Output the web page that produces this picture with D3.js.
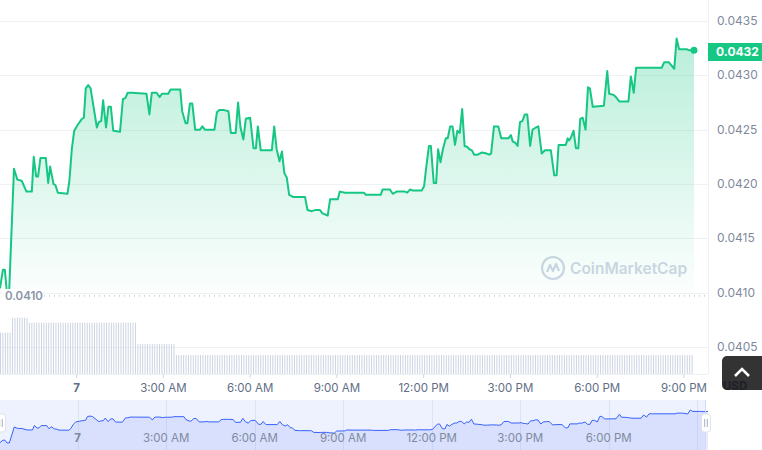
<!DOCTYPE html>
<html>
<head>
<meta charset="utf-8">
<script src="https://cdn.jsdelivr.net/npm/d3@7"></script>
<style>
    body { margin: 0; background: #fff; overflow: hidden; }
    svg { display: block; font-family: Inter, "Noto Sans", sans-serif; }
</style>
</head>
<body>
<svg id="chart" width="762" height="450"></svg>
<script>
// minutes after the first sample (21:22 on the 6th) and the price at that moment
var priceMinutes = [0, 6, 10, 14, 19, 29, 36, 45, 55, 66, 70, 75, 79, 84, 95, 100, 104, 111, 115, 120,
    140, 144, 149, 154, 162, 170, 174, 178, 183, 188, 201, 205, 210, 214, 220, 225, 230, 235, 249, 255,
    260, 265, 273, 304, 310, 315, 325, 331, 336, 349, 354, 374, 378, 385, 389, 394, 399, 405, 415, 420,
    425, 445, 450, 455, 465, 474, 479, 489, 494, 499, 505, 510, 519, 526, 531, 535, 541, 564, 569, 574,
    580, 585, 590, 595, 600, 609, 633, 638, 647, 654, 664, 669, 680, 685, 701, 705, 716, 737, 755, 759,
    790, 794, 809, 815, 823, 840, 845, 851, 856, 875, 880, 884, 890, 894, 900, 905, 909, 914, 919, 925,
    929, 934, 939, 944, 949, 954, 959, 964, 970, 974, 979, 984, 991, 1000, 1010, 1015, 1019, 1025, 1034, 1040,
    1055, 1060, 1064, 1069, 1074, 1079, 1084, 1089, 1094, 1100, 1105, 1112, 1117, 1124, 1131, 1143, 1150, 1155, 1159, 1174,
    1178, 1181, 1185, 1190, 1195, 1200, 1204, 1209, 1215, 1220, 1224, 1230, 1253, 1260, 1264, 1273, 1278, 1285, 1304, 1309,
    1315, 1320, 1327, 1373, 1378, 1388, 1399, 1404, 1409, 1425, 1430, 1440];

var prices = [0.04104, 0.04121, 0.04121, 0.04102, 0.04101, 0.04214, 0.04204, 0.04203, 0.04193, 0.04193,
    0.04225, 0.04207, 0.04207, 0.04224, 0.04224, 0.04201, 0.04216, 0.04200, 0.04199, 0.04192,
    0.04191, 0.04203, 0.04232, 0.04249, 0.04255, 0.04260, 0.04261, 0.04288, 0.04291, 0.04288,
    0.04252, 0.04257, 0.04258, 0.04277, 0.04252, 0.04271, 0.04271, 0.04249, 0.04248, 0.04278,
    0.04279, 0.04284, 0.04284, 0.04283, 0.04264, 0.04284, 0.04284, 0.04280, 0.04283, 0.04283,
    0.04287, 0.04287, 0.04267, 0.04256, 0.04256, 0.04274, 0.04274, 0.04250, 0.04250, 0.04253,
    0.04250, 0.04250, 0.04266, 0.04268, 0.04268, 0.04267, 0.04247, 0.04247, 0.04275, 0.04252,
    0.04241, 0.04260, 0.04261, 0.04233, 0.04233, 0.04253, 0.04231, 0.04231, 0.04253, 0.04232,
    0.04221, 0.04230, 0.04210, 0.04206, 0.04190, 0.04188, 0.04188, 0.04176, 0.04175, 0.04176,
    0.04176, 0.04173, 0.04171, 0.04186, 0.04186, 0.04193, 0.04192, 0.04192, 0.04192, 0.04190,
    0.04190, 0.04195, 0.04195, 0.04191, 0.04193, 0.04193, 0.04192, 0.04195, 0.04194, 0.04194,
    0.04198, 0.04214, 0.04235, 0.04235, 0.04201, 0.04201, 0.04232, 0.04220, 0.04232, 0.04242,
    0.04242, 0.04253, 0.04253, 0.04236, 0.04249, 0.04247, 0.04269, 0.04235, 0.04234, 0.04232,
    0.04231, 0.04227, 0.04227, 0.04229, 0.04228, 0.04227, 0.04228, 0.04253, 0.04253, 0.04242,
    0.04242, 0.04245, 0.04239, 0.04238, 0.04235, 0.04257, 0.04258, 0.04264, 0.04264, 0.04235,
    0.04250, 0.04252, 0.04253, 0.04228, 0.04231, 0.04231, 0.04208, 0.04208, 0.04236, 0.04236,
    0.04242, 0.04240, 0.04243, 0.04249, 0.04233, 0.04233, 0.04260, 0.04261, 0.04250, 0.04289,
    0.04288, 0.04271, 0.04272, 0.04304, 0.04283, 0.04282, 0.04280, 0.04276, 0.04276, 0.04299,
    0.04284, 0.04307, 0.04307, 0.04307, 0.04312, 0.04312, 0.04306, 0.04334, 0.04324, 0.04324,
    0.04323, 0.04323];

// volume runs: minute where the level starts, level (millions)
var volumeRunStart = [0, 25, 58, 284, 361];
var volumeRunValue = [2.9, 3.95, 3.6, 2.1, 1.33];
var volumeStepMinutes = 5;

var priceTicks = [0.0405, 0.0410, 0.0415, 0.0420, 0.0425, 0.0430, 0.0435];
var openPrice = 0.04097;
var currentLabel = '0.0432';

var startTime = new Date(2024, 0, 6, 21, 22);
var endTime = new Date(startTime.getTime() + 1440 * 60000);

function timeAt(m) {
    return new Date(startTime.getTime() + m * 60000);
}

var points = priceMinutes.map(function(m, i) {
    return {t: timeAt(m), p: prices[i]};
});

var volumeBars = [];
for (var m = 0; m < 1440; m += volumeStepMinutes) {
    var level = 0;
    volumeRunStart.forEach(function(s, i) {
        if (m >= s) level = volumeRunValue[i];
    });
    volumeBars.push({t: timeAt(m), v: level});
}

var svg = d3.select('#chart');

var x = d3.scaleTime().domain([startTime, endTime]).range([0, 694]);
var y = d3.scaleLinear().domain([0.0405, 0.0435]).range([347, 21]);
var yVol = d3.scaleLinear().domain([0, 4]).range([374, 317]);

var fmtTime = d3.timeFormat('%-I:%M %p');
function tickLabel(d) {
    return d.getHours() === 0 ? d3.timeFormat('%-d')(d) : fmtTime(d);
}

// gradient under the price line
var defs = svg.append('defs');
var grad = defs.append('linearGradient')
    .attr('id', 'areaFill')
    .attr('gradientUnits', 'userSpaceOnUse')
    .attr('x1', 0).attr('x2', 0)
    .attr('y1', 40).attr('y2', 296);
grad.append('stop').attr('offset', 0).attr('stop-color', '#16c784').attr('stop-opacity', 0.3);
grad.append('stop').attr('offset', 1).attr('stop-color', '#16c784').attr('stop-opacity', 0.01);

// grid
svg.append('g').selectAll('line')
    .data(priceTicks)
    .enter().append('line')
    .attr('x1', 0)
    .attr('x2', 708)
    .attr('y1', function(d) { return Math.round(y(d)) + 0.5; })
    .attr('y2', function(d) { return Math.round(y(d)) + 0.5; })
    .style('stroke', '#eff2f5')
    .style('stroke-width', 1);

svg.append('line')
    .attr('x1', 708.5).attr('x2', 708.5)
    .attr('y1', 0).attr('y2', 374)
    .style('stroke', '#eff2f5');

svg.append('line')
    .attr('x1', 0).attr('x2', 708)
    .attr('y1', 374.5).attr('y2', 374.5)
    .style('stroke', '#eff2f5');

// volume bars
svg.append('g').selectAll('rect')
    .data(volumeBars)
    .enter().append('rect')
    .attr('x', function(d) { return x(d.t); })
    .attr('y', function(d) { return yVol(d.v); })
    .attr('width', 1)
    .attr('height', function(d) { return yVol(0) - yVol(d.v); })
    .style('fill', '#cdd4e2');

// watermark
var wm = svg.append('g').attr('transform', 'translate(553,268)');
wm.append('circle')
    .attr('r', 11)
    .style('fill', 'none')
    .style('stroke', '#cfd6e4')
    .style('stroke-width', 2.2);
wm.append('path')
    .attr('d', 'M-6,4 L-3,-3 L0,3 L3,-4 L6,3')
    .style('fill', 'none')
    .style('stroke', '#cfd6e4')
    .style('stroke-width', 2.2)
    .style('stroke-linejoin', 'round');
svg.append('text')
    .attr('x', 570)
    .attr('y', 274)
    .text('CoinMarketCap')
    .style('font-size', '15.5px')
    .style('font-weight', 600)
    .style('fill', '#cfd6e4');

// price area and line
var area = d3.area()
    .x(function(d) { return x(d.t); })
    .y0(y(0.0410))
    .y1(function(d) { return y(d.p); });
var line = d3.line()
    .x(function(d) { return x(d.t); })
    .y(function(d) { return y(d.p); });

svg.append('path')
    .datum(points)
    .attr('d', area)
    .style('fill', 'url(#areaFill)');

// open price reference
svg.append('line')
    .attr('x1', 44).attr('x2', 708)
    .attr('y1', y(openPrice)).attr('y2', y(openPrice))
    .style('stroke', '#a6b0c3')
    .style('stroke-width', 1)
    .style('stroke-dasharray', '1,4');

svg.append('path')
    .datum(points)
    .attr('d', line)
    .style('fill', 'none')
    .style('stroke', '#16c784')
    .style('stroke-width', 2)
    .style('stroke-linejoin', 'round');

var last = points[points.length - 1];
svg.append('circle')
    .attr('cx', x(last.t))
    .attr('cy', y(last.p))
    .attr('r', 3.5)
    .style('fill', '#16c784');

svg.append('rect')
    .attr('x', 2).attr('y', y(openPrice) - 7)
    .attr('width', 41).attr('height', 13)
    .style('fill', '#fff');
svg.append('text')
    .attr('x', 5)
    .attr('y', y(openPrice) + 4)
    .text(d3.format('.4f')(openPrice))
    .style('font-size', '11.5px')
    .style('font-weight', 600)
    .style('fill', '#8a93a6');

// right axis
svg.append('g').selectAll('text')
    .data(priceTicks)
    .enter().append('text')
    .attr('x', 717)
    .attr('y', function(d) { return y(d) + 4; })
    .text(d3.format('.4f'))
    .style('font-size', '12px')
    .style('fill', '#808a9d');

svg.append('rect')
    .attr('x', 708).attr('y', 43)
    .attr('width', 54).attr('height', 18)
    .style('fill', '#16c784');
svg.append('text')
    .attr('x', 716)
    .attr('y', 56)
    .text(currentLabel)
    .style('font-size', '12px')
    .style('font-weight', 700)
    .style('fill', '#fff');

// bottom axis
var xAxis = d3.axisBottom(x)
    .ticks(d3.timeHour.every(3))
    .tickSize(4)
    .tickFormat(tickLabel);
var gx = svg.append('g')
    .attr('transform', 'translate(0,374)')
    .call(xAxis);
gx.select('.domain').remove();
gx.selectAll('line').style('stroke', '#cfd6e4');
gx.selectAll('text')
    .attr('y', 10)
    .style('font-family', 'Inter, sans-serif')
    .style('font-size', '11.5px')
    .style('fill', '#616e85')
    .style('font-weight', function(d) { return d.getHours() === 0 ? 700 : 400; });

// navigator
var xn = d3.scaleTime().domain([startTime, endTime]).range([0, 708]);
var yn = d3.scaleLinear().domain(d3.extent(prices)).range([443, 410]);
var navTicks = xn.ticks(d3.timeHour.every(3));

svg.append('rect')
    .attr('x', 0).attr('y', 400)
    .attr('width', 706).attr('height', 50)
    .style('fill', '#eef2fe');

svg.append('g').selectAll('line')
    .data(navTicks)
    .enter().append('line')
    .attr('x1', function(d) { return Math.round(xn(d)) + 0.5; })
    .attr('x2', function(d) { return Math.round(xn(d)) + 0.5; })
    .attr('y1', 400).attr('y2', 450)
    .style('stroke', '#dde3f6');

var navArea = d3.area()
    .x(function(d) { return xn(d.t); })
    .y0(450)
    .y1(function(d) { return yn(d.p); });
var navLine = d3.line()
    .x(function(d) { return xn(d.t); })
    .y(function(d) { return yn(d.p); });

svg.append('path')
    .datum(points)
    .attr('d', navArea)
    .style('fill', '#3861fb')
    .style('fill-opacity', 0.12);
svg.append('path')
    .datum(points)
    .attr('d', navLine)
    .style('fill', 'none')
    .style('stroke', '#3861fb')
    .style('stroke-width', 1);

// labels that would run past the navigator edge are dropped
svg.append('g').selectAll('text')
    .data(navTicks.filter(function(d) { return xn(d) < 670; }))
    .enter().append('text')
    .attr('x', function(d) { return xn(d); })
    .attr('y', 442)
    .attr('text-anchor', 'middle')
    .text(tickLabel)
    .style('font-size', '11.5px')
    .style('fill', '#808a9d')
    .style('font-weight', function(d) { return d.getHours() === 0 ? 700 : 400; });

svg.append('line')
    .attr('x1', 705.5).attr('x2', 705.5)
    .attr('y1', 400).attr('y2', 450)
    .style('stroke', '#d3dbf7');

function handle(cx) {
    svg.append('rect')
        .attr('x', cx - 4.5).attr('y', 414)
        .attr('width', 9).attr('height', 18)
        .attr('rx', 3).attr('ry', 3)
        .style('fill', '#fff')
        .style('stroke', '#dfe3eb');
    [-1.3, 1.3].forEach(function(o) {
        svg.append('line')
            .attr('x1', cx + o).attr('x2', cx + o)
            .attr('y1', 419).attr('y2', 427)
            .style('stroke', '#a6b0c3');
    });
}
handle(1);
handle(706);

// scroll button with the currency label showing over its lower edge
svg.append('rect')
    .attr('x', 722).attr('y', 356)
    .attr('width', 46).attr('height', 34)
    .attr('rx', 5).attr('ry', 5)
    .style('fill', '#333333');
svg.append('path')
    .attr('d', 'M735,376 L742,369 L749,376')
    .style('fill', 'none')
    .style('stroke', '#fff')
    .style('stroke-width', 2.6);
svg.append('text')
    .attr('x', 723)
    .attr('y', 390)
    .text('USD')
    .style('font-size', '11.5px')
    .style('font-weight', 800)
    .style('fill', '#1f2229');
</script>
</body>
</html>
